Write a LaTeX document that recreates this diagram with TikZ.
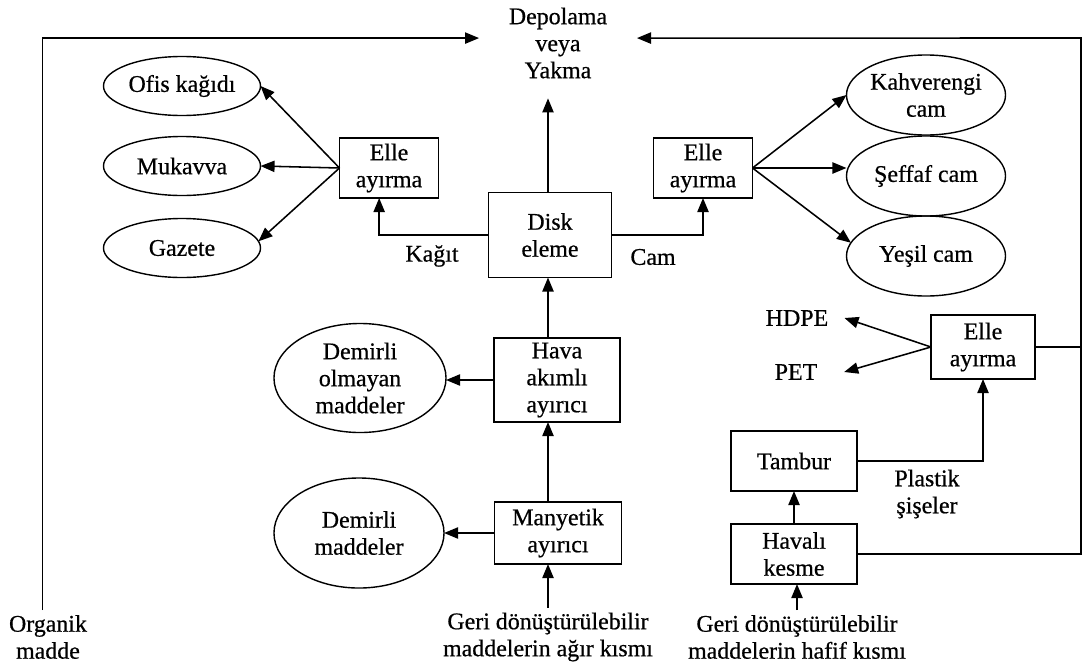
\documentclass[tikz,border=0pt]{standalone}
\usepackage{fontspec}
\setmainfont{Liberation Serif}[FakeBold=0.6]
\usetikzlibrary{arrows.meta,shapes.geometric}

\begin{document}
\begin{tikzpicture}[x=0.025cm,y=-0.025cm,
	every node/.style={font=\fontsize{17}{19.2}\selectfont, align=center},
	kutu/.style={draw, line width=1pt, inner sep=0pt, outer sep=0pt},
	oval/.style={draw, ellipse, line width=1pt, inner sep=0pt, outer sep=0pt},
	arr/.style={line width=1.1pt, -{Triangle[length=10pt,width=8pt]}}]
	\useasboundingbox (0,0) rectangle (1083,671);
	
	\node[inner xsep=21pt, inner ysep=14pt] (dep) at (558,43) {Depolama\\veya\\Yakma};
	\coordinate (sag) at (1081,38);
	
	\foreach \n/\t/\y in {ofis/Ofis kağıdı/86, muk/Mukavva/166, gaz/Gazete/248}
	\node[oval, minimum width=3.925cm, minimum height=1.475cm] (\n) at (182,\y) {\t};
	\foreach \n/\t/\y in {kah/Kahverengi\\cam/95, sef/Şeffaf cam/176, yes/Yeşil cam/256}
	\node[oval, minimum width=3.975cm, minimum height=2cm] (\n) at (926,\y) {\t};
	
	\node[kutu, minimum width=2.475cm, minimum height=1.5cm] (elle1) at (389,168) {Elle\\ayırma};
	\node[kutu, minimum width=2.475cm, minimum height=1.5cm] (elle2) at (703,168) {Elle\\ayırma};
	\node[kutu, minimum width=3.075cm, minimum height=2.125cm] (disk) at (550,235) {Disk\\eleme};
	\node[kutu, minimum width=3.15cm, minimum height=2.1cm] (hava) at (557,380) {Hava\\akımlı\\ayırıcı};
	\node[kutu, minimum width=3.175cm, minimum height=1.55cm] (many) at (558,533) {Manyetik\\ayırıcı};
	\node[oval, minimum width=4.3cm, minimum height=2.725cm] (dolm) at (360,378) {Demirli\\olmayan\\maddeler};
	\node[oval, minimum width=4.25cm, minimum height=2.75cm] (dem) at (359,533) {Demirli\\maddeler};
	
	\node[kutu, minimum width=2.6cm, minimum height=1.6cm] (elle3) at (983,347) {Elle\\ayırma};
	\node[kutu, minimum width=3.15cm, minimum height=1.5cm] (tambur) at (794,461) {Tambur};
	\node[kutu, minimum width=3.15cm, minimum height=1.5cm] (havali) at (794,554) {Havalı\\kesme};
	
	\node (hdpe) at (797,318) {HDPE};
	\node (pet) at (796,372) {PET};
	\node (kagit) at (432,256) {Kağıt};
	\node (cam) at (653,257) {Cam};
	\node (plastik) at (927,494) {Plastik\\şişeler};
	\node (org) at (48,637) {Organik\\madde};
	\node (agir) at (548,637) {Geri dönüştürülebilir\\maddelerin ağır kısmı};
	\node (hafif) at (797,637) {Geri dönüştürülebilir\\maddelerin hafif kısmı};
	
	\draw[arr] ([xshift=-4pt]org.north) |- ([yshift=3.5pt]dep.west);
	\draw[arr] (havali.east) -| (sag) -- ([yshift=3.5pt]dep.east);
	\draw[line width=1.1pt] (elle3.east) -- (elle3.east -| sag);
	
	\draw[arr] (agir.north) -- (agir.north |- many.south);
	\draw[arr] (many.north -| agir) -- (hava.south -| agir);
	\draw[arr] (hava.north -| agir) -- (disk.south -| agir);
	\draw[arr] (disk.north -| agir) -- (dep.south -| agir);
	\draw[arr] (hava.west) -- (hava.west -| dolm.east);
	\draw[arr] (many.west) -- (many.west -| dem.east);
	
	\draw[arr] (disk.west) -| ([xshift=-7pt]elle1.south);
	\draw[arr] (disk.east) -| (elle2.south);
	\foreach \n/\a in {ofis/east, muk/east, gaz/5}
	\draw[arr] (elle1.west) -- (\n.\a);
	\draw[arr] (elle2.east) -- (kah.west);
	\draw[arr] (elle2.east) -- (elle2.east -| sef.west);
	\draw[arr] (elle2.east) -- (yes.170);
	
	\draw[arr] (elle3.west) -- ([xshift=8pt]hdpe.east);
	\draw[arr] (elle3.west) -- ([xshift=15.6pt]pet.east);
	\draw[arr] (tambur.east) -| (elle3.south);
	\draw[arr] (havali.north) -- (tambur.south);
	\draw[arr] (hafif.north) -- (hafif.north |- havali.south);
\end{tikzpicture}
\end{document}
